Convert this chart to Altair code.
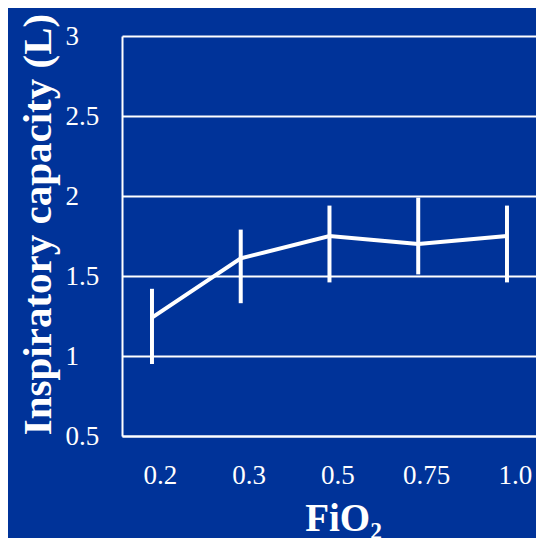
import altair as alt
import pandas as pd

fio2 = ["0.2", "0.3", "0.5", "0.75", "1.0"]
ic_mean = [1.24, 1.61, 1.75, 1.70, 1.75]
ic_low = [0.95, 1.33, 1.46, 1.51, 1.46]
ic_high = [1.42, 1.79, 1.94, 1.99, 1.94]
y_ticks = [0.5, 1, 1.5, 2, 2.5, 3]

df = pd.DataFrame({"fio2": fio2, "mean": ic_mean, "low": ic_low, "high": ic_high})

bg = "#003399"
font = "Liberation Serif"

x_enc = alt.X(
    "fio2:O",
    sort=fio2,
    scale=alt.Scale(type="point", padding=0.3324, align=0.508),
    axis=alt.Axis(
        title="FiO₂",
        labelAngle=0,
        labelFont=font,
        labelFontSize=27,
        labelColor="white",
        labelBaseline="alphabetic",
        labelPadding=47,
        labelOffset=8,
        ticks=False,
        tickSize=0,
        domain=True,
        domainColor="white",
        domainWidth=2,
        grid=False,
        titleFont=font,
        titleFontSize=39,
        titleFontWeight="bold",
        titleColor="white",
        titleX=221,
        titleY=94,
        titleBaseline="alphabetic",
        titleAlign="center",
    ),
)

y_axis = alt.Axis(
    title="Inspiratory capacity (L)",
    values=y_ticks,
    format="~g",
    labelFont=font,
    labelFontSize=27,
    labelColor="white",
    labelAlign="left",
    labelBaseline="middle",
    labelPadding=57,
    ticks=False,
    tickSize=0,
    domain=True,
    domainColor="white",
    domainWidth=2,
    grid=True,
    gridColor="white",
    gridWidth=2,
    gridOpacity=1,
    titleFont=font,
    titleFontSize=41,
    titleFontWeight="bold",
    titleColor="white",
    titleAngle=270,
    titleX=-84,
    titleY=188,
    titleBaseline="middle",
    titleAlign="center",
)

y_scale = alt.Scale(domain=[0.5, 3], nice=False, zero=False)

line = alt.Chart(df).mark_line(color="white", strokeWidth=4).encode(
    x=x_enc,
    y=alt.Y("mean:Q", scale=y_scale, axis=y_axis),
)

bars = alt.Chart(df).mark_rule(color="white", strokeWidth=4).encode(
    x=x_enc,
    y=alt.Y("low:Q", scale=y_scale, axis=y_axis),
    y2="high:Q",
)

chart = (
    alt.layer(line, bars)
    .properties(
        width=414,
        height=400,
        padding={"left": 114, "top": 28, "right": 0, "bottom": 102},
        autosize=alt.AutoSizeParams(type="none"),
        background=bg,
    )
    .configure_view(stroke=None)
)

chart.save("out.html", embed_options={"renderer": "svg", "actions": False})
